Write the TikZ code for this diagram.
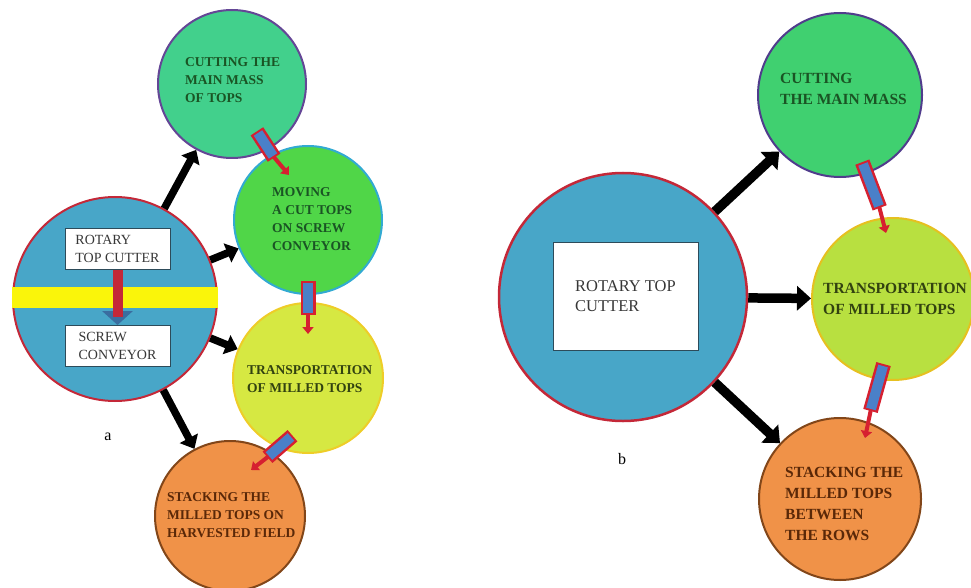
\documentclass[tikz,border=0pt]{standalone}
\usepackage{fontspec}
\setmainfont{Liberation Serif}
\usetikzlibrary{arrows.meta,calc}

\definecolor{cutterblue}{RGB}{72,166,200}
\definecolor{rimred}{RGB}{196,40,56}
\definecolor{bandyellow}{RGB}{250,245,10}
\definecolor{boxrim}{RGB}{45,75,90}
\definecolor{massgreen}{RGB}{66,208,140}
\definecolor{massrim}{RGB}{100,70,150}
\definecolor{movegreen}{RGB}{80,214,72}
\definecolor{moverim}{RGB}{50,170,210}
\definecolor{transyellow}{RGB}{214,232,66}
\definecolor{transrim}{RGB}{238,205,40}
\definecolor{stackorange}{RGB}{240,146,72}
\definecolor{stackrim}{RGB}{130,70,25}
\definecolor{massgreenb}{RGB}{64,208,112}
\definecolor{massrimb}{RGB}{80,60,140}
\definecolor{transgreenb}{RGB}{184,224,64}
\definecolor{transrimb}{RGB}{230,192,32}
\definecolor{penblue}{RGB}{74,128,200}
\definecolor{penred}{RGB}{214,32,48}
\definecolor{headblue}{RGB}{58,110,160}
\definecolor{greentext}{RGB}{26,84,36}
\definecolor{olivetext}{RGB}{50,66,16}
\definecolor{browntext}{RGB}{90,40,8}
\definecolor{greytext}{RGB}{55,55,55}

\begin{document}
\begin{tikzpicture}
	[x=1pt,y=-1pt,
		stage/.style={circle,inner sep=0pt,line width=2pt},
		stagetext/.style={anchor=north west,inner sep=0pt,align=left,font=\bfseries\fontsize{13.5}{18}\selectfont},
		stagetextb/.style={anchor=north west,inner sep=0pt,align=left,font=\bfseries\fontsize{15.5}{21}\selectfont},
		unit/.style={draw=boxrim,fill=white,line width=1pt,align=left,text=greytext},
		flow/.style={-{Triangle[length=12pt,width=20pt]},line width=7.5pt,black},
		flowb/.style={-{Triangle[length=14pt,width=24pt]},line width=9.5pt,black},
		pen shaft/.style={-{Triangle[length=7pt,width=11pt]},line width=4pt,penred},
		pen rim/.style={line width=15pt,penred},
		pen body/.style={line width=10pt,penblue}]
	\useasboundingbox (0,0) rectangle (971,588);
	% ---- a ----
	\node[stage,draw=rimred,fill=cutterblue,minimum size=204pt] (A) at (115,299) {};
	\fill[bandyellow] (12,287) rectangle (218,308);
	\node[unit,minimum width=105pt,minimum height=41pt,font=\fontsize{14}{18}\selectfont] (rtc) at (117.5,248.5) {ROTARY\\TOP CUTTER};
	\node[unit,minimum width=105pt,minimum height=41pt,font=\fontsize{14}{18}\selectfont] (sc) at (117.5,346) {SCREW\\CONVEYOR};
	\draw[line width=10pt,rimred,-{Triangle[length=14pt,width=30pt,color=headblue]}] (rtc.south) -- (sc.north);
	\draw[line width=10pt,rimred] (rtc.south) -- ($(sc.north)+(0,-8)$);

	\node[stage,draw=massrim,fill=massgreen,minimum size=148pt] (B) at (232,84) {};
	\node[stage,draw=moverim,fill=movegreen,minimum size=148pt] (C) at (308,220) {};
	\node[stage,draw=transrim,fill=transyellow,minimum size=150pt] (D) at (308,378) {};
	\node[stage,draw=stackrim,fill=stackorange,minimum size=150pt] (E) at (230,516) {};
	\node[stagetext,text=greentext] (Btext) at (185,57) {CUTTING THE\\MAIN MASS\\OF TOPS};
	\node[stagetext,text=greentext] (Ctext) at (272,187) {MOVING\\A CUT TOPS\\ON SCREW\\CONVEYOR};
	\node[stagetext,text=olivetext] (Dtext) at (247,365) {TRANSPORTATION\\OF MILLED TOPS};
	\node[stagetext,text=browntext] (Etext) at (167,492) {STACKING THE\\MILLED TOPS ON\\HARVESTED FIELD};

	\draw[flow] (A) -- (B);
	\draw[flow] (A) -- (C);
	\draw[flow] (A) -- (D);
	\draw[flow] (A) -- (E);
	\node[font=\fontsize{16}{18}\selectfont] (la) at (108,437) {a};

	% ---- b ----
	\node[stage,draw=rimred,fill=cutterblue,minimum size=248pt,line width=2.5pt] (F) at (623,297) {};
	\node[unit,minimum width=145pt,minimum height=108pt,font=\fontsize{16.5}{20}\selectfont] (rtcb) at (625.5,296) {ROTARY TOP\\CUTTER};
	\node[stage,draw=massrimb,fill=massgreenb,minimum size=164pt] (G) at (840,95) {};
	\node[stage,draw=transrimb,fill=transgreenb,minimum size=162pt] (H) at (893,299) {};
	\node[stage,draw=stackrim,fill=stackorange,minimum size=162pt] (I) at (840,499) {};
	\node[stagetextb,text=greentext] (Gtext) at (780,73) {CUTTING\\THE MAIN MASS};
	\node[stagetextb,text=olivetext] (Htext) at (823,283) {TRANSPORTATION\\OF MILLED TOPS};
	\node[stagetextb,text=browntext] (Itext) at (785,467) {STACKING THE\\MILLED TOPS\\BETWEEN\\THE ROWS};

	\draw[flowb] (F) -- (G);
	\draw[flowb] (F) -- (H);
	\draw[flowb] (F) -- (I);
	\node[font=\fontsize{16}{18}\selectfont] (lb) at (622,459) {b};

	% pens between the stages
	\coordinate (bc1) at (258,133); \coordinate (bc2) at (273,156); \coordinate (bc3) at (289,175);
	\coordinate (cd1) at (308,283); \coordinate (cd2) at (308,313); \coordinate (cd3) at (308,334);
	\coordinate (de1) at (291,437); \coordinate (de2) at (269,456); \coordinate (de3) at (251,470);
	\coordinate (gh1) at (863,164); \coordinate (gh2) at (879,206); \coordinate (gh3) at (886,233);
	\coordinate (hi1) at (883,366); \coordinate (hi2) at (871,409); \coordinate (hi3) at (865,438);
	\foreach \p in {bc,cd,de,gh,hi}{
		\draw[pen shaft] (\p2) -- (\p3);
		\draw[pen rim] ($(\p1)!-2pt!(\p2)$) -- ($(\p2)!-2pt!(\p1)$);
		\draw[pen body] (\p1) -- (\p2);
	}
\end{tikzpicture}
\end{document}
